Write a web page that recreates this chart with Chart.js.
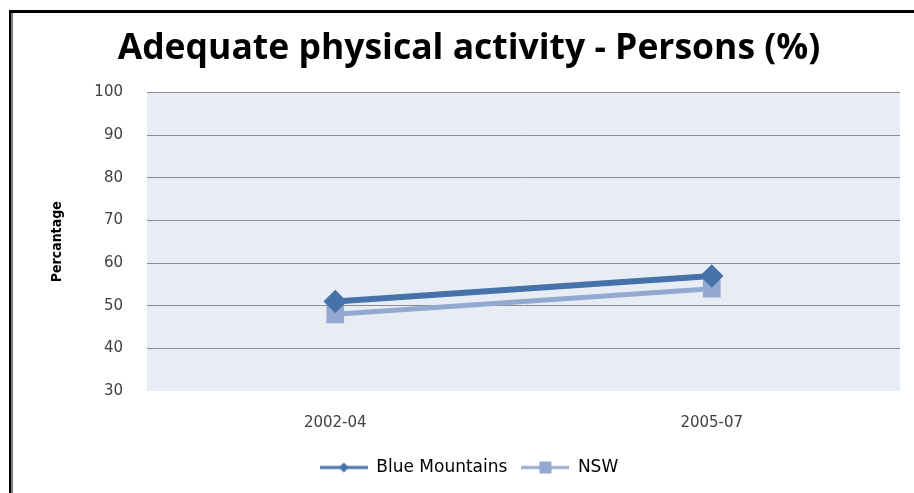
<!DOCTYPE html>
<html>
<head>
<meta charset="utf-8">
<script src="https://cdn.jsdelivr.net/npm/chart.js@4/dist/chart.umd.min.js"></script>
<style>
  body { margin: 0; background: #fff; }
  #wrap { position: relative; width: 914px; height: 493px; }
  #frame { position: absolute; left: 9px; top: 10px; right: 0; bottom: 0;
           border-left: 2px solid #000; border-top: 3px solid #000; }
  #frame::before { content: ''; position: absolute; left: 0; top: 0; bottom: 0; width: 2px; background: #808080; }
  canvas { position: absolute; left: 0; top: 0; }
</style>
</head>
<body>
<div id="wrap">
  <div id="frame"></div>
  <canvas id="chart" width="914" height="493"></canvas>
</div>
<script>
const periods = ['2002-04', '2005-07'];
const blueMountains = [51, 57];
const nsw = [48, 54];
const yMin = 30, yMax = 100, yStep = 10;

const darkBlue = '#4672aa';
const lightBlue = '#93a9d1';

// legend icons: line with marker
function legendIcon(color, shape) {
    const c = document.createElement('canvas');
    c.width = 48; c.height = 14;
    const g = c.getContext('2d');
    g.strokeStyle = color;
    g.lineWidth = 3;
    g.beginPath(); g.moveTo(0, 7); g.lineTo(48, 7); g.stroke();
    g.fillStyle = color;
    if (shape === 'diamond') {
        g.beginPath(); g.moveTo(24, 2); g.lineTo(29, 7); g.lineTo(24, 12); g.lineTo(19, 7); g.closePath(); g.fill();
    } else {
        g.fillRect(18, 1, 12, 12);
    }
    return c;
}

const plotBg = {
    id: 'plotBg',
    beforeDraw(chart) {
        const { ctx, chartArea: a } = chart;
        ctx.save();
        ctx.fillStyle = '#e8edf5';
        ctx.fillRect(a.left, a.top, a.right - a.left, a.bottom - a.top);
        ctx.restore();
    }
};

Chart.defaults.font.family = 'DejaVu Sans';
Chart.defaults.color = '#404040';

new Chart(document.getElementById('chart'), {
    type: 'line',
    data: {
        labels: periods,
        datasets: [{
            label: 'Blue Mountains',
            data: blueMountains,
            borderColor: darkBlue,
            backgroundColor: darkBlue,
            borderWidth: 6,
            pointStyle: 'rectRot',
            pointRadius: 7.5,
            pointHoverRadius: 7.5,
            tension: 0
        }, {
            label: 'NSW',
            data: nsw,
            borderColor: lightBlue,
            backgroundColor: lightBlue,
            borderWidth: 5,
            pointStyle: 'rect',
            pointRadius: 9,
            pointHoverRadius: 9,
            tension: 0
        }]
    },
    options: {
        responsive: false,
        animation: false,
        layout: { padding: { left: 34, right: 10, top: 10, bottom: 7 } },
        plugins: {
            title: {
                display: true,
                text: 'Adequate physical activity - Persons (%)',
                font: { family: 'Open Sans', size: 35.5, weight: 'bold' },
                color: '#000',
                padding: { top: 18, bottom: 22 }
            },
            legend: {
                position: 'bottom',
                labels: {
                    usePointStyle: true,
                    pointStyleWidth: 48,
                    font: { size: 17 },
                    color: '#000',
                    boxWidth: 48,
                    padding: 14,
                    generateLabels(chart) {
                        return chart.data.datasets.map((ds, i) => ({
                            text: ds.label,
                            pointStyle: legendIcon(ds.borderColor, i === 0 ? 'diamond' : 'square'),
                            datasetIndex: i,
                            fontColor: '#000',
                            lineWidth: 0
                        }));
                    }
                }
            },
            tooltip: { enabled: false }
        },
        scales: {
            x: {
                offset: true,
                afterFit(scale) { scale.height = 54; },
                grid: { display: false, drawTicks: false },
                border: { display: false },
                ticks: { font: { size: 15 }, color: '#404040', padding: 23 }
            },
            y: {
                min: yMin,
                max: yMax,
                afterFit(scale) { scale.width = 113; },
                ticks: { stepSize: yStep, font: { size: 15 }, color: '#404040', padding: 24 },
                grid: {
                    drawTicks: false,
                    color: ctx => ctx.tick && ctx.tick.value === yMin ? 'rgba(0,0,0,0)' : '#8c8c8c',
                    lineWidth: 1
                },
                border: { display: false },
                title: {
                    display: true,
                    text: 'Percantage',
                    font: { family: 'DejaVu Sans Condensed', size: 14, weight: 'bold' },
                    color: '#000',
                    padding: { top: 15, bottom: 0 }
                }
            }
        }
    },
    plugins: [plotBg]
});
</script>
</body>
</html>
